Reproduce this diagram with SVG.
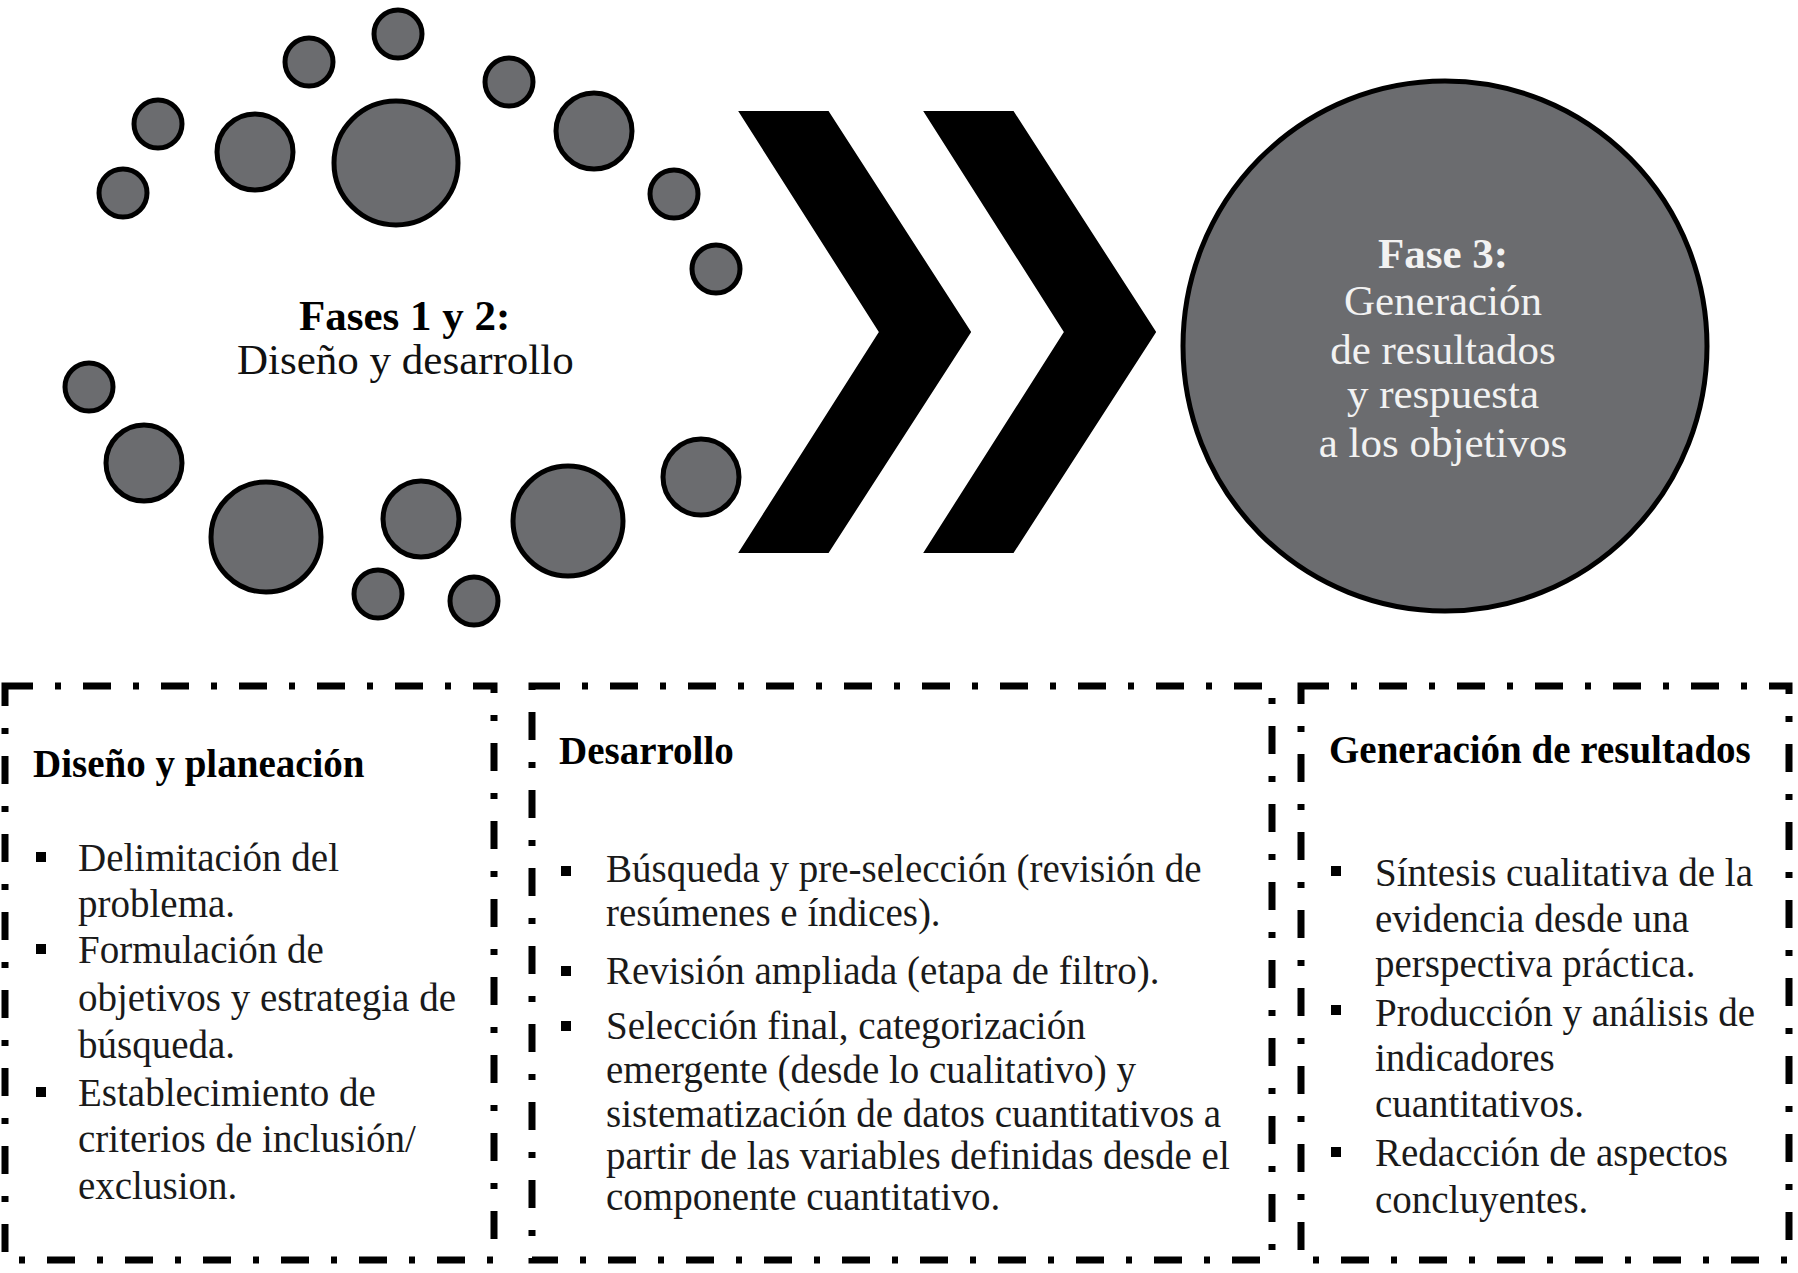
<svg xmlns="http://www.w3.org/2000/svg" width="1798" height="1273" viewBox="0 0 1798 1273">
<style>
.dot{fill:#6b6c6f;stroke:#000;stroke-width:5}
.t{font-family:"Liberation Serif","Times New Roman",serif;font-size:39px;fill:#1a1a1a}
.h{font-family:"Liberation Serif","Times New Roman",serif;font-size:39px;font-weight:bold;fill:#000}
.big{font-family:"Liberation Serif","Times New Roman",serif;font-size:43px}
.box{fill:none;stroke:#000;stroke-width:7;stroke-dasharray:28 22 6 22}
.chev{fill:#000;stroke:#000;stroke-width:2;stroke-linejoin:miter}
.bul{fill:#000}
</style>
<rect width="1798" height="1273" fill="#fff"/>
<g id="fases-1-2">
<circle class="dot" cx="398" cy="34" r="24"/>
<circle class="dot" cx="309" cy="62" r="24"/>
<circle class="dot" cx="158" cy="124" r="24"/>
<circle class="dot" cx="123" cy="193" r="24"/>
<circle class="dot" cx="255" cy="152" r="38"/>
<circle class="dot" cx="396" cy="163" r="62"/>
<circle class="dot" cx="509" cy="82" r="24"/>
<circle class="dot" cx="594" cy="131" r="38"/>
<circle class="dot" cx="674" cy="194" r="24"/>
<circle class="dot" cx="716" cy="269" r="24"/>
<circle class="dot" cx="89" cy="387" r="24"/>
<circle class="dot" cx="144" cy="463" r="38"/>
<circle class="dot" cx="266" cy="537" r="55"/>
<circle class="dot" cx="421" cy="519" r="38"/>
<circle class="dot" cx="568" cy="521" r="55"/>
<circle class="dot" cx="701" cy="477" r="38"/>
<circle class="dot" cx="378" cy="594" r="24"/>
<circle class="dot" cx="474" cy="601" r="24"/>
<text class="big" x="299" y="330" font-weight="bold" fill="#000">Fases 1 y 2:</text>
<text class="big" x="237" y="374" fill="#111">Diseño y desarrollo</text>
</g>
<g id="connectors">
<polygon class="chev" points="740,112 828,112 970,332 828,552 740,552 880,332"/>
<polygon class="chev" points="925,112 1013,112 1155,332 1013,552 925,552 1065,332"/>
</g>
<g id="fase-3">
<ellipse cx="1445" cy="346" rx="262" ry="265" fill="#6b6c6f" stroke="#000" stroke-width="5"/>
<g class="big" fill="#f2f2f2" text-anchor="middle">
<text x="1443" y="268" font-weight="bold">Fase 3:</text>
<text x="1443" y="315">Generación</text>
<text x="1443" y="364">de resultados</text>
<text x="1443" y="408">y respuesta</text>
<text x="1443" y="457">a los objetivos</text>
</g>
</g>
<g id="box-diseno">
<rect class="box" x="5" y="686" width="489" height="574"/>
<text class="h" x="33" y="777">Diseño y planeación</text>
<rect class="bul" x="36" y="852" width="10" height="10"/>
<rect class="bul" x="36" y="944" width="10" height="10"/>
<rect class="bul" x="36" y="1087" width="10" height="10"/>
<text class="t" x="78" y="871">Delimitación del</text>
<text class="t" x="78" y="917">problema.</text>
<text class="t" x="78" y="963">Formulación de</text>
<text class="t" x="78" y="1011">objetivos y estrategia de</text>
<text class="t" x="78" y="1058">búsqueda.</text>
<text class="t" x="78" y="1106">Establecimiento de</text>
<text class="t" x="78" y="1152">criterios de inclusión/</text>
<text class="t" x="78" y="1199">exclusion.</text>
</g>
<g id="box-desarrollo">
<rect class="box" x="532" y="686" width="740" height="574"/>
<text class="h" x="559" y="764">Desarrollo</text>
<rect class="bul" x="561" y="866" width="10" height="10"/>
<rect class="bul" x="561" y="966" width="10" height="10"/>
<rect class="bul" x="561" y="1021" width="10" height="10"/>
<text class="t" x="606" y="882">Búsqueda y pre-selección (revisión de</text>
<text class="t" x="606" y="926">resúmenes e índices).</text>
<text class="t" x="606" y="984">Revisión ampliada (etapa de filtro).</text>
<text class="t" x="606" y="1039">Selección final, categorización</text>
<text class="t" x="606" y="1083">emergente (desde lo cualitativo) y</text>
<text class="t" x="606" y="1127">sistematización de datos cuantitativos a</text>
<text class="t" x="606" y="1169">partir de las variables definidas desde el</text>
<text class="t" x="606" y="1210">componente cuantitativo.</text>
</g>
<g id="box-generacion">
<rect class="box" x="1301" y="686" width="488" height="574"/>
<text class="h" x="1329" y="763">Generación de resultados</text>
<rect class="bul" x="1331" y="866" width="10" height="10"/>
<rect class="bul" x="1331" y="1005" width="10" height="10"/>
<rect class="bul" x="1331" y="1147" width="10" height="10"/>
<text class="t" x="1375" y="886">Síntesis cualitativa de la</text>
<text class="t" x="1375" y="932">evidencia desde una</text>
<text class="t" x="1375" y="977">perspectiva práctica.</text>
<text class="t" x="1375" y="1026">Producción y análisis de</text>
<text class="t" x="1375" y="1071">indicadores</text>
<text class="t" x="1375" y="1117">cuantitativos.</text>
<text class="t" x="1375" y="1166">Redacción de aspectos</text>
<text class="t" x="1375" y="1213">concluyentes.</text>
</g>
</svg>
